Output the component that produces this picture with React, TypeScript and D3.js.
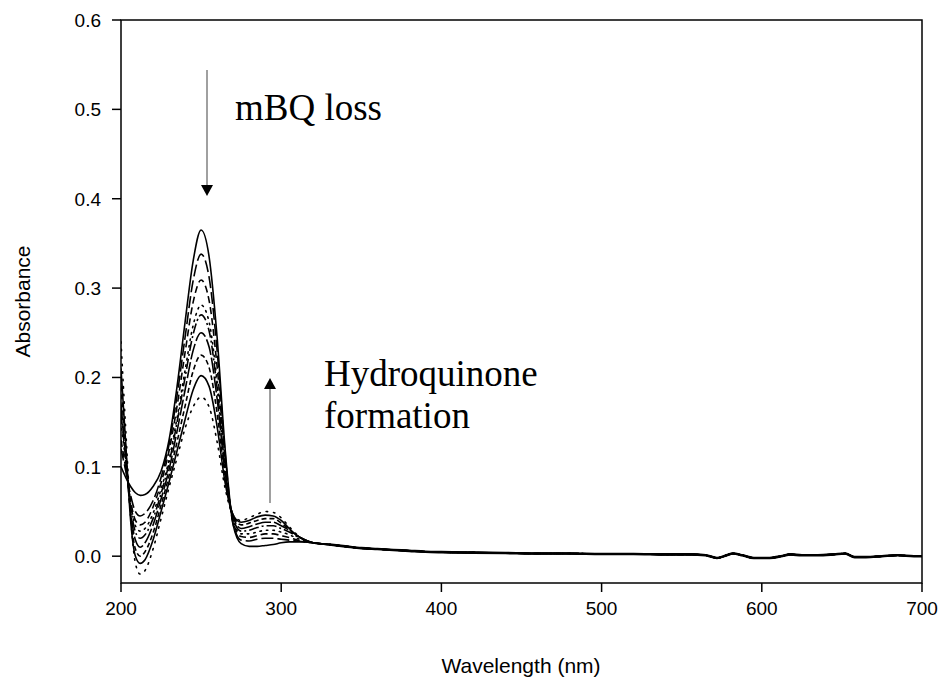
import React from "react";
import * as d3 from "d3";

const grid = [200, 203, 206, 209, 212, 215, 220, 225, 230, 235, 240, 245, 250, 255, 260, 265, 270, 275, 280, 285, 290, 295, 300, 305, 310, 315, 320];

const s0 = [0.100, 0.088, 0.078, 0.071, 0.068, 0.069, 0.078, 0.095, 0.130, 0.190, 0.262, 0.330, 0.365, 0.335, 0.245, 0.120, 0.035, 0.014, 0.011, 0.011, 0.012, 0.013, 0.015, 0.016, 0.016, 0.016, 0.015];
const s1 = [0.120, 0.095, 0.068, 0.050, 0.045, 0.048, 0.062, 0.088, 0.125, 0.180, 0.245, 0.308, 0.338, 0.312, 0.230, 0.115, 0.036, 0.018, 0.017, 0.019, 0.020, 0.020, 0.019, 0.018, 0.017, 0.016, 0.015];
const s2 = [0.130, 0.098, 0.062, 0.040, 0.035, 0.038, 0.055, 0.082, 0.118, 0.168, 0.228, 0.284, 0.309, 0.286, 0.212, 0.108, 0.038, 0.022, 0.021, 0.023, 0.025, 0.025, 0.023, 0.021, 0.018, 0.016, 0.015];
const s3 = [0.150, 0.105, 0.060, 0.034, 0.028, 0.031, 0.048, 0.075, 0.108, 0.155, 0.208, 0.258, 0.281, 0.262, 0.195, 0.100, 0.040, 0.025, 0.025, 0.027, 0.029, 0.029, 0.027, 0.024, 0.020, 0.017, 0.015];
const s4 = [0.160, 0.108, 0.056, 0.027, 0.020, 0.024, 0.042, 0.070, 0.104, 0.150, 0.200, 0.248, 0.270, 0.252, 0.188, 0.098, 0.042, 0.028, 0.029, 0.032, 0.034, 0.034, 0.031, 0.027, 0.022, 0.018, 0.015];
const s5 = [0.170, 0.110, 0.050, 0.018, 0.010, 0.015, 0.035, 0.064, 0.097, 0.140, 0.186, 0.230, 0.250, 0.234, 0.176, 0.094, 0.044, 0.031, 0.033, 0.036, 0.038, 0.038, 0.034, 0.029, 0.023, 0.018, 0.015];
const s6 = [0.190, 0.118, 0.046, 0.008, 0.000, 0.005, 0.026, 0.057, 0.090, 0.128, 0.168, 0.207, 0.225, 0.211, 0.160, 0.088, 0.046, 0.035, 0.037, 0.040, 0.042, 0.042, 0.037, 0.030, 0.023, 0.018, 0.015];
const s7 = [0.210, 0.125, 0.040, 0.000, -0.008, -0.004, 0.018, 0.050, 0.083, 0.118, 0.153, 0.186, 0.202, 0.190, 0.145, 0.082, 0.046, 0.038, 0.040, 0.044, 0.046, 0.045, 0.040, 0.031, 0.023, 0.018, 0.015];
const s8 = [0.240, 0.140, 0.045, -0.008, -0.020, -0.016, 0.008, 0.042, 0.077, 0.110, 0.143, 0.167, 0.178, 0.167, 0.128, 0.076, 0.046, 0.040, 0.043, 0.047, 0.050, 0.049, 0.043, 0.033, 0.024, 0.018, 0.015];

const tailWl = [330, 340, 350, 360, 370, 380, 390, 400, 420, 440, 460, 480, 500, 520, 540, 555, 565, 572, 578, 582, 588, 595, 605, 612, 618, 625, 635, 645, 652, 658, 665, 675, 685, 695, 700];
const tailAbs = [0.013, 0.011, 0.009, 0.008, 0.007, 0.006, 0.005, 0.0045, 0.004, 0.0035, 0.003, 0.003, 0.0025, 0.0025, 0.002, 0.002, 0.001, -0.002, 0.001, 0.003, 0.001, -0.002, -0.002, 0.0, 0.002, 0.001, 0.001, 0.002, 0.003, -0.001, -0.001, 0.0, 0.001, 0.0, 0.0];

const seriesList = [s0, s1, s2, s3, s4, s5, s6, s7, s8];
const dashes = ["none", "12,4", "7,4", "1.5,5", "10,3,2,3", "16,3", "5,3", "none", "1.5,6"];

const xTicks = [200, 300, 400, 500, 600, 700];
const yTicks = [0.0, 0.1, 0.2, 0.3, 0.4, 0.5, 0.6];

export default function App() {
  const W = 943, H = 691;
  const left = 121, right = 922, top = 20, bottom = 583;
  const x = d3.scaleLinear().domain([200, 700]).range([left, right]);
  const y = d3.scaleLinear().domain([-0.03, 0.6]).range([bottom, top]);
  const line = d3
    .line<[number, number]>()
    .x((d) => x(d[0]))
    .y((d) => y(d[1]))
    .curve(d3.curveMonotoneX);

  const tail: [number, number][] = tailWl.map((w, i) => [w, tailAbs[i]]);
  const font = "Arial, 'Liberation Sans', sans-serif";
  const serif = "'Times New Roman', 'Liberation Serif', serif";

  return (
    <svg width={W} height={H} style={{ position: "absolute", left: 0, top: 0, background: "#fff" }}>
      <rect x={0} y={0} width={W} height={H} fill="#fff" />
      <defs>
        <clipPath id="plotclip">
          <rect x={left} y={top} width={right - left} height={bottom - top} />
        </clipPath>
      </defs>
      <g clipPath="url(#plotclip)" fill="none" stroke="#000" strokeWidth={1.6}>
        {seriesList.map((s, i) => {
          const pts: [number, number][] = grid.map((w, j) => [w, s[j]] as [number, number]).concat(tail);
          return (
            <path
              key={i}
              d={line(pts) || ""}
              strokeDasharray={dashes[i]}
              strokeLinecap={dashes[i].startsWith("1.5") ? "round" : "butt"}
            />
          );
        })}
        <path d={line(tail) || ""} strokeWidth={2.6} />
      </g>
      {/* frame */}
      <rect x={left} y={top} width={right - left} height={bottom - top} fill="none" stroke="#000" strokeWidth={1.5} />
      {yTicks.map((t) => (
        <g key={"y" + t}>
          <line x1={left - 9} x2={left} y1={y(t)} y2={y(t)} stroke="#000" strokeWidth={1.5} />
          <text x={left - 20} y={y(t)} dy="0.36em" textAnchor="end" fontFamily={font} fontSize={19}>
            {t.toFixed(1)}
          </text>
        </g>
      ))}
      {xTicks.map((t) => (
        <g key={"x" + t}>
          <line x1={x(t)} x2={x(t)} y1={bottom} y2={bottom + 9} stroke="#000" strokeWidth={1.5} />
          <text x={x(t)} y={bottom + 32} textAnchor="middle" fontFamily={font} fontSize={19}>
            {t}
          </text>
        </g>
      ))}
      <text x={521} y={673} textAnchor="middle" fontFamily={font} fontSize={21}>
        Wavelength (nm)
      </text>
      <text transform={`translate(30, ${(top + bottom) / 2}) rotate(-90)`} textAnchor="middle" fontFamily={font} fontSize={21}>
        Absorbance
      </text>
      <line x1={207} x2={207} y1={70} y2={186} stroke="#808080" strokeWidth={1.5} />
      <path d="M201,185 L213,185 L207,196 Z" fill="#000" />
      <text x={235} y={120} fontFamily={serif} fontSize={37}>
        mBQ loss
      </text>
      <line x1={270} x2={270} y1={503} y2={388} stroke="#808080" strokeWidth={1.5} />
      <path d="M264,389 L276,389 L270,378 Z" fill="#000" />
      <text x={324} y={386} fontFamily={serif} fontSize={37}>
        Hydroquinone
      </text>
      <text x={324} y={428} fontFamily={serif} fontSize={37}>
        formation
      </text>
    </svg>
  );
}
